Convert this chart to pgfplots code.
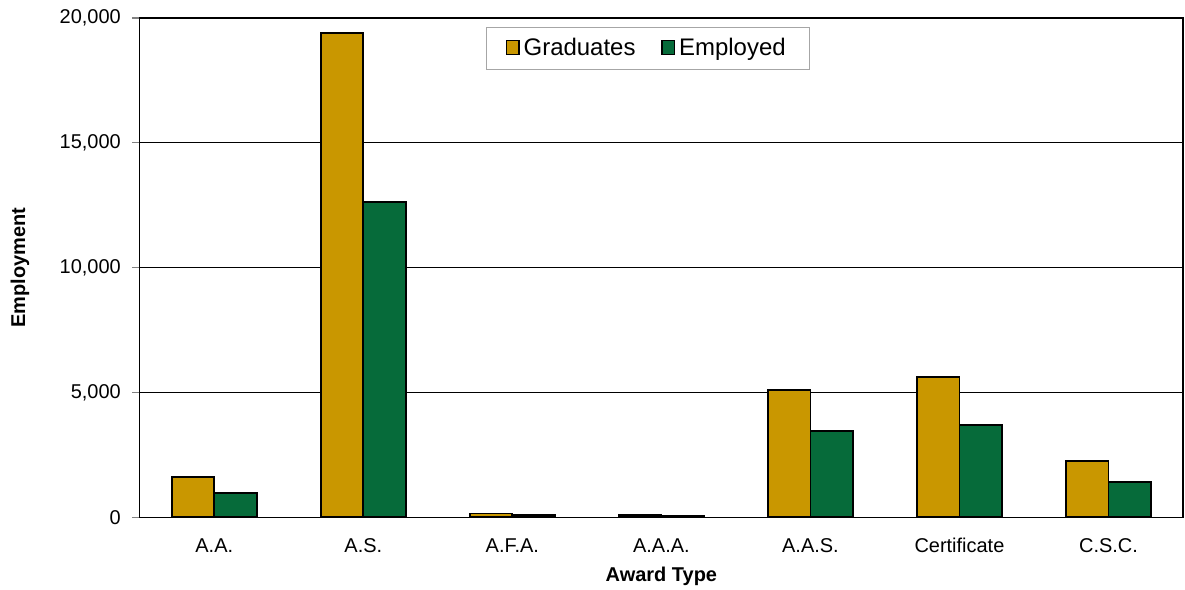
\documentclass[border=0pt]{standalone}
\usepackage{pgfplots}
\pgfplotsset{compat=1.18}
\usepackage{fontspec}
\setmainfont{Liberation Sans}
\definecolor{gold}{RGB}{201,151,0}
\definecolor{dgreen}{RGB}{6,107,58}
\begin{document}
\begin{tikzpicture}
\begin{axis}[
  scale only axis,
  width=522.5pt, height=250pt,
  ybar=0pt, bar width=0.285,
  xmin=-0.5, xmax=6.5,
  ymin=0, ymax=20000,
  xtick={0,1,2,3,4,5,6},
  xticklabels={A.A.,A.S.,A.F.A.,A.A.A.,A.A.S.,Certificate,C.S.C.},
  x tick style={draw=none},
  ytick={0,5000,10000,15000,20000},
  ymajorgrids, grid style={black, line width=0.6pt},
  y tick style={gray, line width=0.6pt},
  tick align=outside, major tick length=4pt,
  ytick pos=left,
  scaled y ticks=false,
  /pgf/number format/.cd, 1000 sep={,}, assume math mode=true,
  /pgfplots/.cd,
  tick label style={font=\fontsize{10}{11}\selectfont},
  xticklabel style={text depth=0.25ex, text height=1.6ex, yshift=-1.8pt},
  yticklabel style={xshift=-2pt},
  axis line style={black, line width=0.6pt},
  xlabel={\textbf{Award Type}},
  ylabel={\textbf{Employment}},
  label style={font=\fontsize{10}{11}\selectfont},
  every axis x label/.style={at={(axis description cs:0.5,-0.118)}, anchor=center},
  every axis y label/.style={at={(axis description cs:-0.1148,0.5)}, rotate=90, anchor=center},
  legend style={at={(axis description cs:0.487,0.982)}, anchor=north, legend columns=2,
    draw=gray!70, font=\fontsize{12}{13}\selectfont, inner xsep=10pt, inner ysep=3.5pt,
    /tikz/every even column/.append style={column sep=11pt}},
  legend image code/.code={\draw[#1, draw=black, line width=0.6pt] (0cm,-0.11cm) rectangle (0.22cm,0.14cm);},
]
\addplot[fill=gold, draw=black, line width=0.9pt] coordinates {(0,1600) (1,19400) (2,150) (3,100) (4,5080) (5,5600) (6,2240)};
\addplot[fill=dgreen, draw=black, line width=0.9pt] coordinates {(0,980) (1,12640) (2,80) (3,50) (4,3440) (5,3680) (6,1400)};
\legend{Graduates,Employed}
\coordinate (sw) at (rel axis cs:0,0);
\coordinate (ne) at (rel axis cs:1,1);
\end{axis}
\pgfresetboundingbox
\path[use as bounding box] ([shift={(-70pt,-36pt)}]sw) rectangle ([shift={(1pt,9pt)}]ne);
\end{tikzpicture}
\end{document}
